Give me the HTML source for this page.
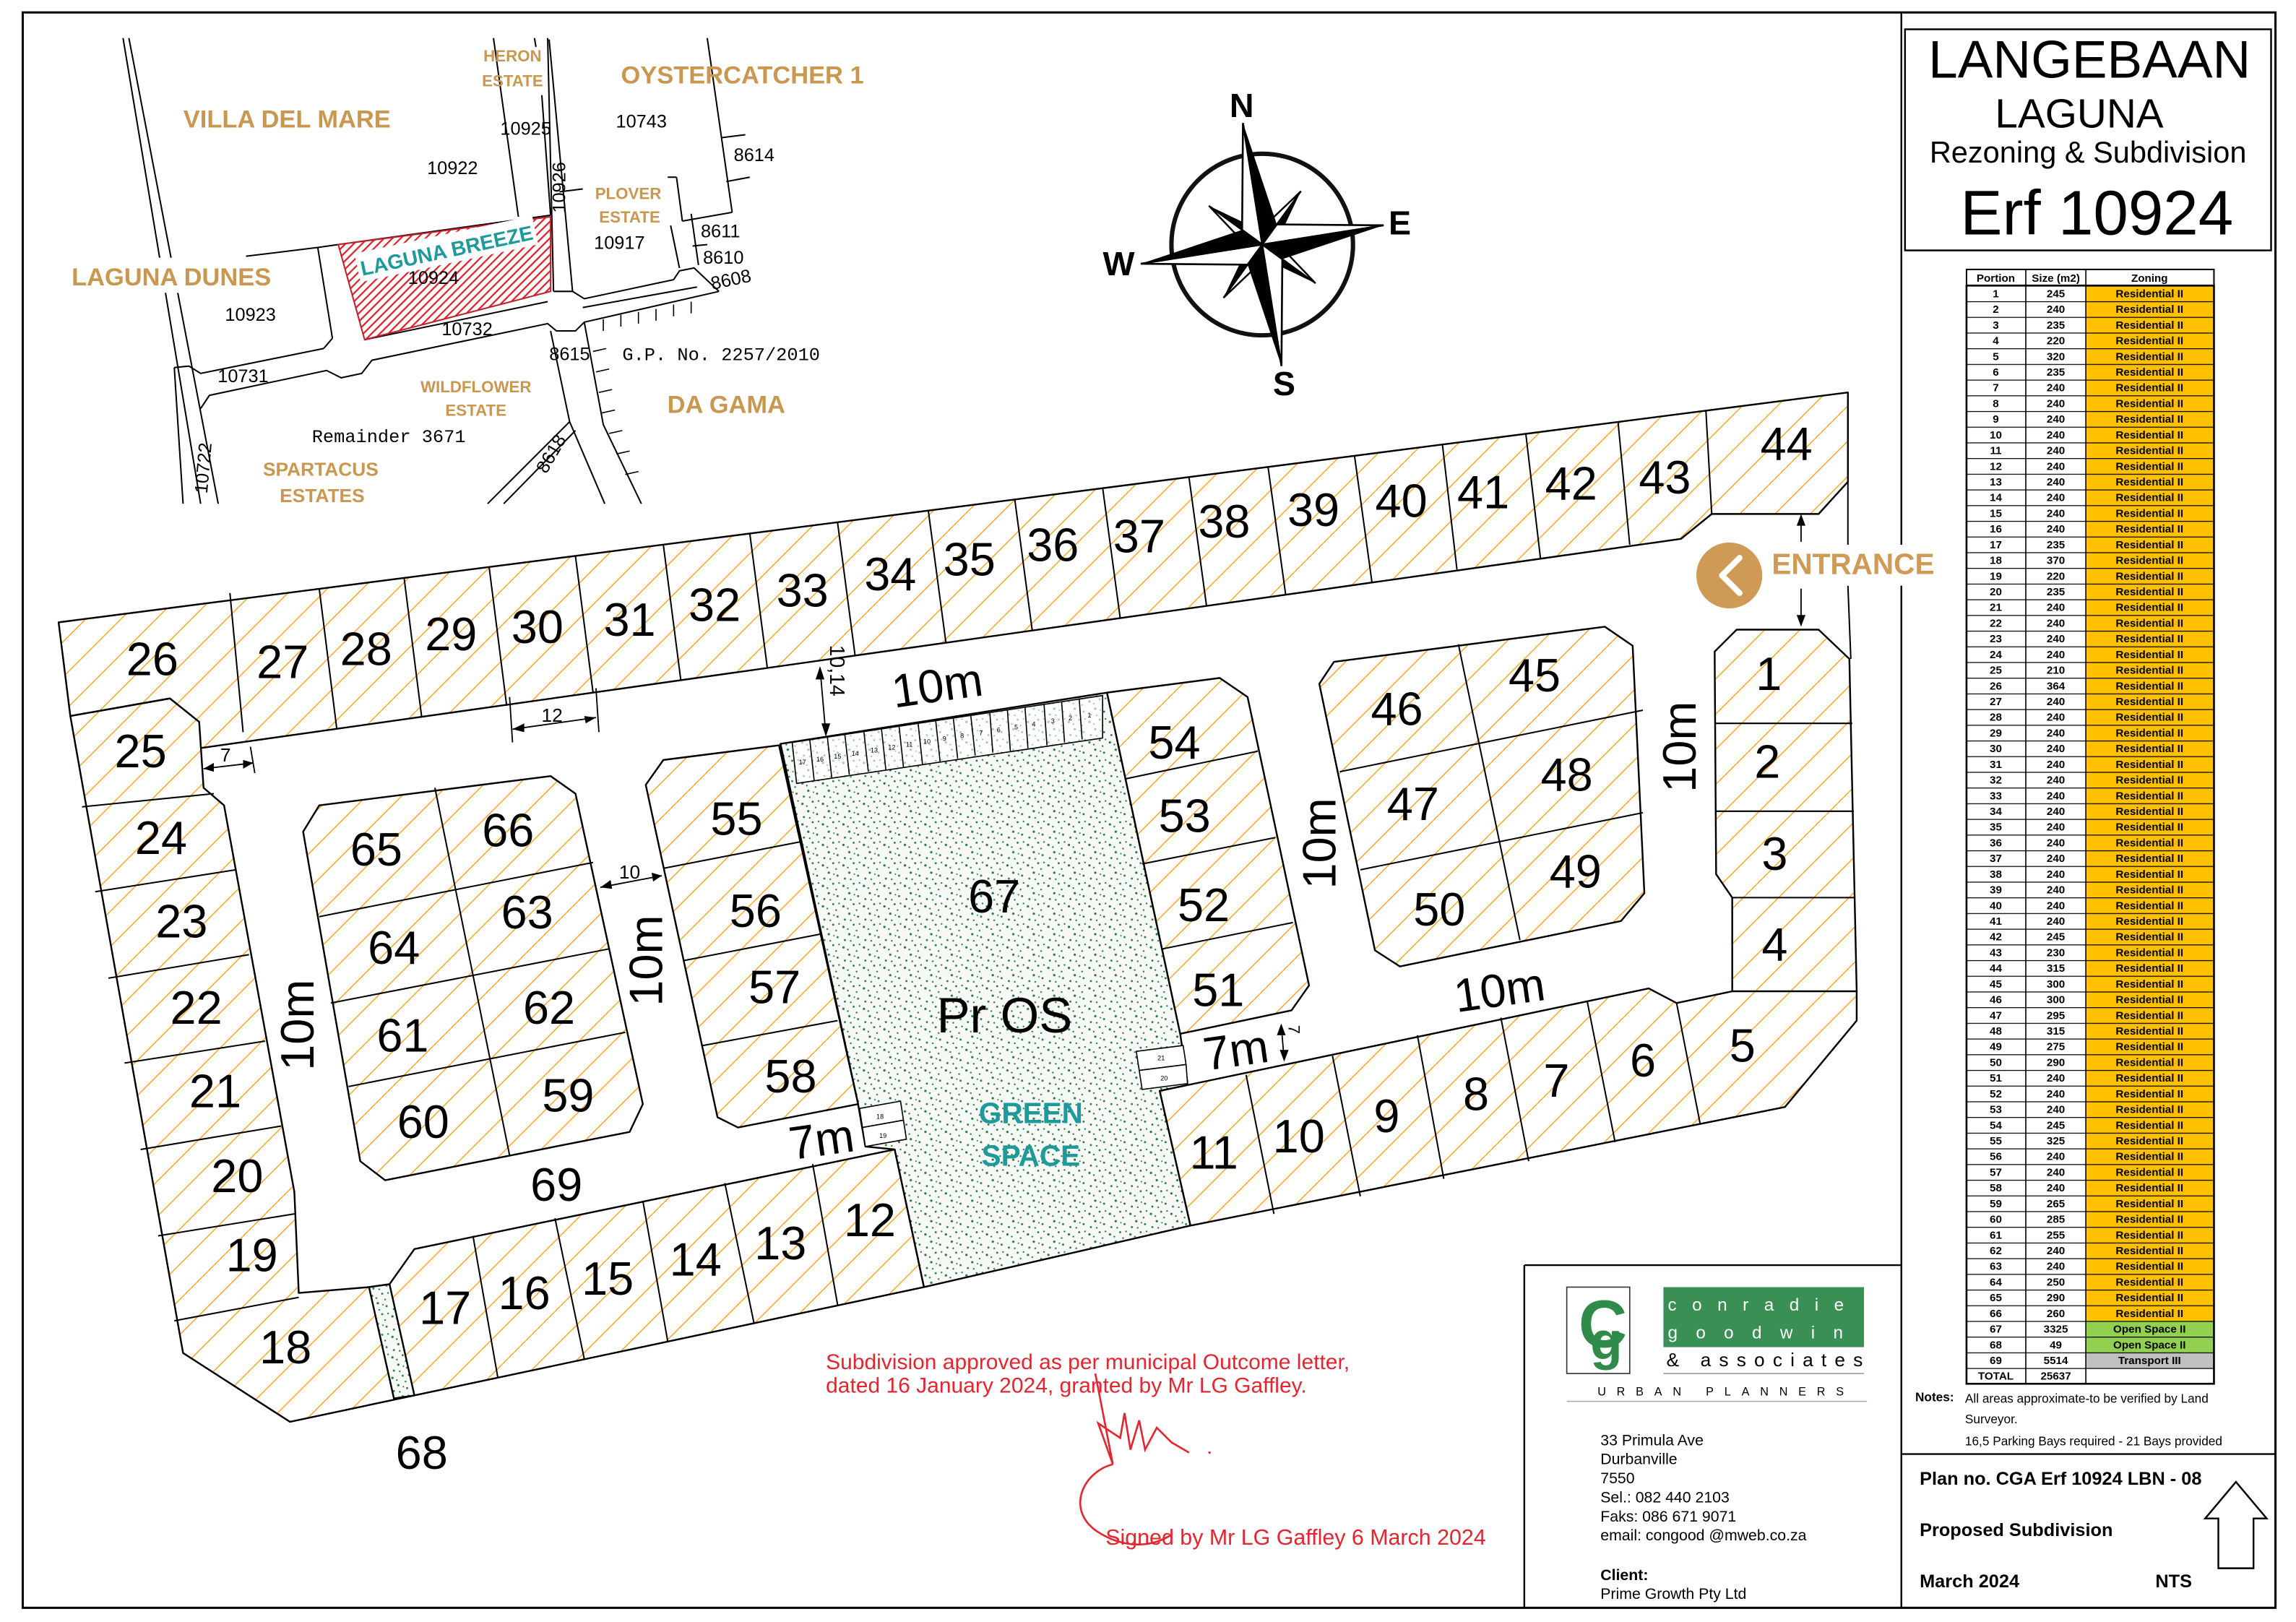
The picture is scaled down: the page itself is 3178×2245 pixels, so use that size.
<!DOCTYPE html>
<html><head><meta charset="utf-8">
<style>
html,body{margin:0;padding:0;background:#fff;}
svg{display:block;}
text{font-family:"Liberation Sans",sans-serif;}
.lot{font-size:32px;fill:#000;text-anchor:middle;dominant-baseline:central;}
.tan{fill:#c9974f;font-weight:bold;text-anchor:middle;}
.num{font-family:"Liberation Sans Narrow","Liberation Sans",sans-serif;font-size:12.5px;text-anchor:middle;}
.mono{font-family:"Liberation Mono",monospace;font-size:12.5px;}
</style></head>
<body>
<svg width="3178" height="2245" viewBox="0 0 1568 1107.7" xmlns="http://www.w3.org/2000/svg">
<defs>
<pattern id="h" patternUnits="userSpaceOnUse" width="17" height="17" patternTransform="rotate(45)">
<rect width="17" height="17" fill="#fff"/><line x1="0" y1="0" x2="0" y2="17" stroke="#f7a21b" stroke-width="1.4"/>
</pattern>
<pattern id="sp" patternUnits="userSpaceOnUse" width="14" height="14">
<rect width="14" height="14" fill="#f7f9f7"/>
<circle cx="2" cy="3" r="0.8" fill="#2a7a40"/><circle cx="9" cy="1.5" r="0.7" fill="#2a7a40"/>
<circle cx="6" cy="8" r="0.8" fill="#2a7a40"/><circle cx="12" cy="10" r="0.7" fill="#2a7a40"/>
<circle cx="3" cy="12" r="0.7" fill="#2a7a40"/><circle cx="11" cy="5.5" r="0.6" fill="#2a7a40"/>
<circle cx="7" cy="12.5" r="0.6" fill="#2a7a40"/><circle cx="5" cy="4.5" r="0.6" fill="#2a7a40"/>
<circle cx="13" cy="1" r="0.6" fill="#2a7a40"/><circle cx="9.5" cy="9" r="0.5" fill="#2a7a40"/>
</pattern>
<pattern id="rh" patternUnits="userSpaceOnUse" width="4" height="4" patternTransform="rotate(45)">
<rect width="4" height="4" fill="#fff"/><line x1="0" y1="0" x2="0" y2="4" stroke="#e0202a" stroke-width="2.2"/>
</pattern>
<pattern id="rows" patternUnits="userSpaceOnUse" x="0" y="195" width="200" height="10.714">
<line x1="0" y1="0.3" x2="200" y2="0.3" stroke="#000" stroke-width="0.6"/>
</pattern>
</defs>

<!-- page frame -->
<rect x="15.5" y="8.5" width="1538.5" height="1089.5" fill="none" stroke="#000" stroke-width="1.5"/>
<line x1="1298.5" y1="8.5" x2="1298.5" y2="1098" stroke="#000" stroke-width="1.2"/>
<line x1="1041" y1="864" x2="1298.5" y2="864" stroke="#000" stroke-width="1.2"/>
<line x1="1041" y1="864" x2="1041" y2="1098" stroke="#000" stroke-width="1.2"/>
<line x1="1298.5" y1="993" x2="1554" y2="993" stroke="#000" stroke-width="1.2"/>

<!-- title -->
<rect x="1301" y="20" width="250" height="151" fill="none" stroke="#000" stroke-width="1.2"/>
<text x="1427" y="53" font-size="36" text-anchor="middle">LANGEBAAN</text>
<text x="1420" y="87" font-size="28" text-anchor="middle">LAGUNA</text>
<text x="1426" y="111" font-size="20.5" text-anchor="middle">Rezoning &amp; Subdivision</text>
<text x="1432" y="160" font-size="43" text-anchor="middle">Erf 10924</text>

<!-- ===== INSET MAP ===== -->
<g stroke="#000" stroke-width="1" fill="none">
<line x1="84" y1="26" x2="137" y2="344"/><line x1="88" y1="26" x2="149" y2="344"/>
<line x1="119" y1="251" x2="125" y2="344"/>
<polyline points="119,251 129,250 137,255 221,238"/>
<polyline points="137,279 143,270 223,253 233,258 247,255 254,246 374,221 380,226 393,226 399,220 491,199"/>
<line x1="217" y1="169" x2="227" y2="231"/><line x1="227" y1="231" x2="221" y2="238"/>
<polyline points="168,175 217,169 231,167 376,147"/>
<line x1="249" y1="232" x2="374" y2="206"/>
<line x1="374" y1="26" x2="378" y2="199"/><line x1="375" y1="27" x2="391" y2="199"/>
<polyline points="378,199 391,199 399,204 460,191 464,185 474,183 491,199"/>
<line x1="337" y1="26" x2="354" y2="148"/><line x1="370" y1="65" x2="376" y2="147"/>
<line x1="365" y1="26" x2="366" y2="32"/>
<line x1="483" y1="26" x2="500" y2="145"/><line x1="466" y1="151" x2="500" y2="145"/>
<line x1="493" y1="94" x2="509" y2="92"/><line x1="496" y1="124" x2="512" y2="121"/>
<line x1="456" y1="121" x2="462" y2="121"/><line x1="462" y1="121" x2="466" y2="151"/>
<line x1="458" y1="154" x2="464" y2="183"/><line x1="472" y1="146" x2="477" y2="181"/>
<line x1="473" y1="168" x2="483" y2="167"/><line x1="382" y1="131" x2="398" y2="129"/>
<polyline points="376,226 389,288 413,344"/>
<polyline points="399,220 412,290 438,344"/>
<polyline points="333,344 389,288"/><line x1="344" y1="344" x2="393" y2="294"/>
<line x1="398" y1="210" x2="476" y2="196"/>
</g>
<g stroke="#000" stroke-width="0.8">
<line x1="405" y1="240" x2="414" y2="238"/><line x1="407" y1="254" x2="416" y2="252"/><line x1="409" y1="268" x2="418" y2="266"/>
<line x1="411" y1="282" x2="420" y2="280"/><line x1="416" y1="296" x2="425" y2="294"/><line x1="421" y1="310" x2="430" y2="308"/><line x1="427" y1="324" x2="436" y2="322"/>
<line x1="412" y1="218" x2="412" y2="226"/><line x1="424" y1="215" x2="424" y2="223"/><line x1="436" y1="213" x2="436" y2="221"/><line x1="448" y1="211" x2="448" y2="219"/><line x1="460" y1="208" x2="460" y2="216"/><line x1="472" y1="206" x2="472" y2="214"/>
</g>
<polygon points="231,167 376,148 376,199 249,232" fill="url(#rh)" stroke="#c0202a" stroke-width="1"/>
<g transform="translate(305,171) rotate(-12)">
<rect x="-62" y="-11" width="124" height="20" fill="#fff"/>
<text x="0" y="5" font-size="14" font-weight="bold" fill="#1f9a9a" text-anchor="middle">LAGUNA BREEZE</text>
</g>
<text class="num" x="296" y="194">10924</text>
<rect x="38" y="176" width="160" height="24" fill="#fff"/>
<text class="tan" x="350" y="42" font-size="11">HERON</text>
<text class="tan" x="350" y="59" font-size="11">ESTATE</text>
<text class="tan" x="507" y="57" font-size="17">OYSTERCATCHER 1</text>
<text class="tan" x="196" y="87" font-size="17">VILLA DEL MARE</text>
<text class="num" x="359" y="92">10925</text>
<text class="num" x="438" y="87">10743</text>
<text class="num" x="515" y="110">8614</text>
<text class="num" x="309" y="119">10922</text>
<text class="num" x="0" y="0" transform="translate(386,128) rotate(-90)">10926</text>
<text class="tan" x="429" y="136" font-size="11">PLOVER</text>
<text class="tan" x="430" y="152" font-size="11">ESTATE</text>
<text class="num" x="423" y="170">10917</text>
<text class="num" x="492" y="162">8611</text>
<text class="num" x="494" y="180">8610</text>
<text class="num" x="0" y="0" transform="translate(500,195) rotate(-12)">8608</text>
<text class="tan" x="117" y="195" font-size="17">LAGUNA DUNES</text>
<text class="num" x="171" y="219">10923</text>
<text class="num" x="319" y="229">10732</text>
<text class="num" x="389" y="246">8615</text>
<text class="mono" x="425" y="246">G.P. No. 2257/2010</text>
<text class="num" x="166" y="261">10731</text>
<text class="tan" x="325" y="268" font-size="11">WILDFLOWER</text>
<text class="tan" x="325" y="284" font-size="11">ESTATE</text>
<text class="tan" x="496" y="282" font-size="17">DA GAMA</text>
<text class="mono" x="213" y="302">Remainder 3671</text>
<text class="tan" x="219" y="325" font-size="13">SPARTACUS</text>
<text class="tan" x="220" y="343" font-size="13">ESTATES</text>
<text class="num" x="0" y="0" transform="translate(143,320) rotate(-85)">10722</text>
<text class="num" x="0" y="0" transform="translate(380,312) rotate(-60)">8618</text>

<!-- ===== COMPASS ===== -->
<circle cx="862" cy="167" r="62" fill="none" stroke="#111" stroke-width="3"/>
<g transform="translate(862,167) rotate(-9)">
 <g>
 <polygon points="0,0 -7,-7 0,-45" fill="#fff" stroke="#000" stroke-width="1.2" transform="rotate(45)"/>
 <polygon points="0,0 7,-7 0,-45" fill="#000" transform="rotate(45)"/>
 <polygon points="0,0 -7,-7 0,-45" fill="#fff" stroke="#000" stroke-width="1.2" transform="rotate(135)"/>
 <polygon points="0,0 7,-7 0,-45" fill="#000" transform="rotate(135)"/>
 <polygon points="0,0 -7,-7 0,-45" fill="#fff" stroke="#000" stroke-width="1.2" transform="rotate(225)"/>
 <polygon points="0,0 7,-7 0,-45" fill="#000" transform="rotate(225)"/>
 <polygon points="0,0 -7,-7 0,-45" fill="#fff" stroke="#000" stroke-width="1.2" transform="rotate(315)"/>
 <polygon points="0,0 7,-7 0,-45" fill="#000" transform="rotate(315)"/>
 </g>
 <polygon points="0,0 -12,-12 0,-84" fill="#fff" stroke="#000" stroke-width="1.3"/>
 <polygon points="0,0 12,-12 0,-84" fill="#000"/>
 <polygon points="0,0 -12,-12 0,-84" fill="#fff" stroke="#000" stroke-width="1.3" transform="rotate(90)"/>
 <polygon points="0,0 12,-12 0,-84" fill="#000" transform="rotate(90)"/>
 <polygon points="0,0 -12,-12 0,-84" fill="#fff" stroke="#000" stroke-width="1.3" transform="rotate(180)"/>
 <polygon points="0,0 12,-12 0,-84" fill="#000" transform="rotate(180)"/>
 <polygon points="0,0 -12,-12 0,-84" fill="#fff" stroke="#000" stroke-width="1.3" transform="rotate(270)"/>
 <polygon points="0,0 12,-12 0,-84" fill="#000" transform="rotate(270)"/>
</g>
<g font-size="23" font-weight="bold" text-anchor="middle">
<text x="848" y="80">N</text><text x="956" y="160">E</text><text x="764" y="188">W</text><text x="877" y="270">S</text>
</g>

<!-- ===== SITE LAYOUT ===== -->
<g stroke="#000" stroke-width="1.2" stroke-linejoin="round">
<polygon fill="url(#h)" points="40,425 1262,268 1262,329 1242,351 1169,351 1148,368 136,511 136,493 116,477 48,489"/>
<polygon fill="url(#h)" points="48,489 116,477 136,493 139,538 153,550 201,814 204,883 252,879 266,877 283,853 611,785 631,879 198,971 125,924"/>
<polygon fill="url(#sp)" points="533,508 756,473 806,706 811,741 792,745 813,837 631,879 611,785 591,783 586,754"/>
<polygon fill="url(#sp)" points="252,879 266,877 283,953 269,955"/>
<polygon fill="url(#h)" points="441,536 453,519 532,509 586,754 504,770 490,763"/>
<polygon fill="url(#h)" points="207,568 218,550 376,530 393,542 439,754 430,773 263,806 246,793"/>
<polygon fill="url(#h)" points="756,473 833,463 852,476 894,673 882,690 806,706"/>
<polygon fill="url(#h)" points="901,467 911,452 1096,428 1115,441 1123,610 1107,629 956,660 939,649"/>
<polygon fill="url(#h)" points="1171,445 1186,430 1242,430 1263,450 1268,677 1183,677 1183,613 1172,597"/>
<polygon fill="url(#h)" points="792,745 1126,675 1145,685 1183,677 1268,677 1268,697 1219,756 813,837"/>
</g>
<g stroke="#000" stroke-width="1">
<line x1="157" y1="405" x2="166" y2="500"/>
<line x1="218" y1="402" x2="230" y2="498"/><line x1="276" y1="395" x2="288" y2="490"/>
<line x1="334" y1="387" x2="346" y2="482"/><line x1="393" y1="380" x2="405" y2="473"/>
<line x1="453" y1="372" x2="465" y2="465"/><line x1="512" y1="364" x2="524" y2="456"/>
<line x1="572" y1="357" x2="584" y2="448"/><line x1="634" y1="349" x2="646" y2="439"/>
<line x1="693" y1="341" x2="705" y2="431"/><line x1="753" y1="333" x2="765" y2="422"/>
<line x1="812" y1="326" x2="824" y2="414"/><line x1="866" y1="319" x2="878" y2="406"/>
<line x1="925" y1="311" x2="937" y2="398"/><line x1="985" y1="303" x2="995" y2="389"/>
<line x1="1042" y1="296" x2="1052" y2="381"/><line x1="1105" y1="288" x2="1113" y2="372"/>
<line x1="1165" y1="280" x2="1169" y2="351"/>
<line x1="56" y1="551" x2="146" y2="542"/><line x1="65" y1="609" x2="161" y2="594"/>
<line x1="74" y1="668" x2="170" y2="652"/><line x1="85" y1="726" x2="181" y2="711"/>
<line x1="96" y1="785" x2="192" y2="769"/><line x1="108" y1="844" x2="201" y2="829"/>
<line x1="119" y1="902" x2="204" y2="886"/>
<line x1="323" y1="844" x2="340" y2="941"/><line x1="379" y1="832" x2="399" y2="928"/>
<line x1="439" y1="820" x2="456" y2="916"/><line x1="495" y1="808" x2="515" y2="904"/>
<line x1="555" y1="795" x2="572" y2="891"/>
<line x1="453" y1="593" x2="546" y2="575"/><line x1="467" y1="656" x2="560" y2="638"/><line x1="480" y1="714" x2="572" y2="697"/>
<line x1="297" y1="538" x2="348" y2="789"/>
<line x1="218" y1="626" x2="405" y2="589"/><line x1="226" y1="685" x2="416" y2="648"/><line x1="238" y1="742" x2="427" y2="705"/>
<line x1="768" y1="532" x2="859" y2="513"/><line x1="780" y1="590" x2="871" y2="572"/><line x1="794" y1="648" x2="883" y2="630"/>
<line x1="996" y1="440" x2="1038" y2="642"/>
<line x1="915" y1="527" x2="1122" y2="485"/><line x1="929" y1="594" x2="1122" y2="555"/>
<line x1="1171" y1="494" x2="1265" y2="494"/><line x1="1172" y1="554" x2="1266" y2="554"/><line x1="1183" y1="613" x2="1267" y2="613"/>
<line x1="851" y1="734" x2="870" y2="829"/><line x1="910" y1="721" x2="929" y2="817"/>
<line x1="968" y1="707" x2="986" y2="805"/><line x1="1025" y1="695" x2="1044" y2="793"/>
<line x1="1084" y1="684" x2="1103" y2="780"/><line x1="1145" y1="685" x2="1161" y2="767"/>
<line x1="1262" y1="329" x2="1262" y2="372"/><line x1="1262" y1="400" x2="1264" y2="450"/>
<line x1="806" y1="706" x2="811" y2="739"/>
</g>
<g stroke="#000" stroke-width="0.8">
<polygon points="541,507 753,475 753,504 544,535" fill="#fff" fill-opacity="0.6"/>
<line x1="553" y1="505" x2="556" y2="533"/><line x1="565" y1="503" x2="568" y2="531"/><line x1="577" y1="502" x2="580" y2="529"/>
<line x1="590" y1="500" x2="593" y2="527"/><line x1="602" y1="498" x2="605" y2="526"/><line x1="614" y1="496" x2="617" y2="524"/>
<line x1="627" y1="494" x2="630" y2="522"/><line x1="639" y1="492" x2="642" y2="520"/><line x1="651" y1="490" x2="654" y2="518"/>
<line x1="663" y1="489" x2="666" y2="516"/><line x1="676" y1="487" x2="678" y2="514"/><line x1="688" y1="485" x2="690" y2="513"/>
<line x1="700" y1="483" x2="702" y2="511"/><line x1="713" y1="481" x2="715" y2="509"/><line x1="725" y1="479" x2="727" y2="507"/>
<line x1="737" y1="477" x2="739" y2="505"/>
<polygon points="776,718 808,714 810,727 778,731" fill="#fff"/><polygon points="778,731 810,727 811,740 780,744" fill="#fff"/>
<polygon points="587,757 615,752 617,765 589,770" fill="#fff"/><polygon points="589,770 617,765 619,778 591,783" fill="#fff"/>
</g>
<g font-size="4.5" text-anchor="middle">
<text x="548" y="522">17</text><text x="560" y="520">16</text><text x="572" y="518">15</text><text x="584" y="516">14</text><text x="597" y="514">13</text><text x="609" y="512">12</text><text x="621" y="510">11</text><text x="633" y="508">10</text><text x="645" y="506">9</text><text x="657" y="504">8</text><text x="670" y="502">7</text><text x="682" y="500">6</text><text x="694" y="498">5</text><text x="706" y="496">4</text><text x="719" y="494">3</text><text x="731" y="492">2</text><text x="744" y="490">1</text>
<text x="793" y="724">21</text><text x="795" y="738">20</text><text x="601" y="764">18</text><text x="603" y="777">19</text>
</g>

<g stroke="#000" stroke-width="0.9" fill="none">
<line x1="560" y1="456" x2="564" y2="502"/>
<line x1="348" y1="476" x2="350" y2="507"/><line x1="407" y1="470" x2="409" y2="500"/>
<line x1="350" y1="498" x2="407" y2="490"/>
<line x1="139" y1="525" x2="173" y2="521"/><line x1="171" y1="510" x2="174" y2="528"/>
<line x1="410" y1="606" x2="452" y2="598"/>
<line x1="875" y1="700" x2="877" y2="724"/>
<line x1="1230" y1="353" x2="1230" y2="370"/><line x1="1230" y1="402" x2="1230" y2="426"/>
</g>
<g fill="#000">
<polygon points="560,455 557,464 563,464"/><polygon points="564,503 561,494 567,494"/>
<polygon points="350,498 358,494 358,500"/><polygon points="407,490 399,489 400,494"/>
<polygon points="139,525 146,521 146,527"/><polygon points="173,521 166,519 166,525"/>
<polygon points="410,606 417,601 418,607"/><polygon points="452,598 445,596 446,602"/>
<polygon points="875,699 872,707 878,707"/><polygon points="877,725 874,717 880,717"/>
<polygon points="1230,351 1227,359 1233,359"/><polygon points="1230,428 1227,420 1233,420"/>
</g>
<g font-size="13" text-anchor="middle">
<text x="377" y="493">12</text><text x="154" y="520">7</text><text x="430" y="600">10</text>
<text x="0" y="0" transform="translate(567,458) rotate(90)" font-size="14">10,14</text>
<text x="0" y="0" transform="translate(880,703) rotate(90)" font-size="11">7</text>
</g>

<g font-size="32" text-anchor="middle" dominant-baseline="central">
<text x="0" y="0" transform="translate(640,468) rotate(-8)">10m</text>
<text x="0" y="0" transform="translate(203,700) rotate(-90)">10m</text>
<text x="0" y="0" transform="translate(441,656) rotate(-90)">10m</text>
<text x="0" y="0" transform="translate(901,576) rotate(-90)">10m</text>
<text x="0" y="0" transform="translate(1147,510) rotate(-90)">10m</text>
<text x="0" y="0" transform="translate(1024,676) rotate(-8)">10m</text>
<text x="0" y="0" transform="translate(561,778) rotate(-8)">7m</text>
<text x="0" y="0" transform="translate(844,717) rotate(-8)">7m</text>
<text x="380" y="809">69</text>
<text x="288" y="992">68</text>
</g>

<g class="lot">
<text x="104" y="450" class="lot">26</text><text x="193" y="452" class="lot">27</text><text x="250" y="443" class="lot">28</text>
<text x="308" y="433" class="lot">29</text><text x="367" y="428" class="lot">30</text><text x="430" y="423" class="lot">31</text>
<text x="488" y="413" class="lot">32</text><text x="548" y="403" class="lot">33</text><text x="608" y="392" class="lot">34</text>
<text x="662" y="382" class="lot">35</text><text x="719" y="372" class="lot">36</text><text x="778" y="366" class="lot">37</text>
<text x="836" y="356" class="lot">38</text><text x="897" y="348" class="lot">39</text><text x="957" y="342" class="lot">40</text>
<text x="1013" y="336" class="lot">41</text><text x="1073" y="330" class="lot">42</text><text x="1137" y="326" class="lot">43</text>
<text x="1220" y="303" class="lot">44</text>
<text x="96" y="513" class="lot">25</text><text x="110" y="572" class="lot">24</text><text x="124" y="629" class="lot">23</text>
<text x="134" y="688" class="lot">22</text><text x="147" y="745" class="lot">21</text><text x="162" y="803" class="lot">20</text>
<text x="172" y="857" class="lot">19</text><text x="195" y="920" class="lot">18</text>
<text x="304" y="893" class="lot">17</text><text x="358" y="883" class="lot">16</text><text x="415" y="873" class="lot">15</text>
<text x="475" y="860" class="lot">14</text><text x="533" y="849" class="lot">13</text><text x="594" y="833" class="lot">12</text>
<text x="257" y="580" class="lot">65</text><text x="347" y="567" class="lot">66</text><text x="269" y="647" class="lot">64</text>
<text x="360" y="623" class="lot">63</text><text x="275" y="707" class="lot">61</text><text x="375" y="688" class="lot">62</text>
<text x="289" y="766" class="lot">60</text><text x="388" y="748" class="lot">59</text>
<text x="503" y="559" class="lot">55</text><text x="516" y="622" class="lot">56</text><text x="529" y="674" class="lot">57</text><text x="540" y="735" class="lot">58</text>
<text x="802" y="507" class="lot">54</text><text x="809" y="557" class="lot">53</text><text x="822" y="618" class="lot">52</text><text x="832" y="676" class="lot">51</text>
<text x="954" y="484" class="lot">46</text><text x="1048" y="461" class="lot">45</text><text x="965" y="549" class="lot">47</text>
<text x="1070" y="529" class="lot">48</text><text x="983" y="621" class="lot">50</text><text x="1076" y="595" class="lot">49</text>
<text x="1208" y="460" class="lot">1</text><text x="1207" y="520" class="lot">2</text><text x="1212" y="583" class="lot">3</text>
<text x="1212" y="645" class="lot">4</text><text x="1190" y="714" class="lot">5</text>
<text x="1122" y="724" class="lot">6</text><text x="1063" y="738" class="lot">7</text><text x="1008" y="747" class="lot">8</text>
<text x="947" y="762" class="lot">9</text><text x="887" y="776" class="lot">10</text><text x="829" y="787" class="lot">11</text>
<text x="679" y="612" class="lot">67</text>
</g>
<text x="686" y="705" font-family="Liberation Mono,monospace" font-size="34" text-anchor="middle">Pr OS</text>
<text x="704" y="767" font-size="20" font-weight="bold" fill="#1f9a9a" text-anchor="middle">GREEN</text>
<text x="704" y="796" font-size="20" font-weight="bold" fill="#1f9a9a" text-anchor="middle">SPACE</text>

<rect x="1205" y="372" width="125" height="28" fill="#fff"/>
<circle cx="1181" cy="393" r="22.5" fill="#cf9a55"/>
<polyline points="1188,381 1176,393 1188,405" fill="none" stroke="#fff" stroke-width="4" stroke-linecap="round" stroke-linejoin="round"/>
<text x="1210" y="392" font-size="20" font-weight="bold" fill="#cf9a55">ENTRANCE</text>

<g fill="#e3262f" font-size="14.8">
<text x="564" y="935">Subdivision approved as per municipal Outcome letter,</text>
<text x="564" y="951">dated 16 January 2024, granted by Mr LG Gaffley.</text>
<text x="755" y="1055" font-size="15">Signed by Mr LG Gaffley 6 March 2024</text>
</g>
<path d="M748,938 L760,1000 L750,972 L765,982 L768,965 L772,990 L778,970 L782,990 L790,975 L800,985 L812,992 M760,1000 C740,1005 728,1030 748,1045 C770,1060 790,1055 800,1048" fill="none" stroke="#e3262f" stroke-width="1.3"/>
<circle cx="826" cy="992" r="0.8" fill="#e3262f"/>

<rect x="1343" y="184" width="169" height="11" fill="#fff" stroke="#000" stroke-width="1"/>
<g font-size="7.5" font-weight="bold" text-anchor="middle">
<text x="1363" y="192.5">Portion</text><text x="1404" y="192.5">Size (m2)</text><text x="1468" y="192.5">Zoning</text>
</g>
<rect x="1425" y="195" width="87" height="707.1" fill="#ffc000"/>
<rect x="1425" y="902.1" width="87" height="21.5" fill="#92d050"/>
<rect x="1425" y="923.6" width="87" height="10.7" fill="#c0c0c0"/>
<rect x="1343" y="195" width="169" height="750" fill="url(#rows)"/>
<rect x="1343" y="195" width="169" height="750" fill="none" stroke="#000" stroke-width="1.3"/>
<line x1="1383.5" y1="184" x2="1383.5" y2="945" stroke="#000" stroke-width="0.8"/>
<line x1="1424.5" y1="184" x2="1424.5" y2="945" stroke="#000" stroke-width="0.8"/>
<g font-size="7.5" font-weight="bold" text-anchor="middle">
<text x="1363" y="203"><tspan x="1363" dy="0">1</tspan><tspan x="1363" dy="10.714">2</tspan><tspan x="1363" dy="10.714">3</tspan><tspan x="1363" dy="10.714">4</tspan><tspan x="1363" dy="10.714">5</tspan><tspan x="1363" dy="10.714">6</tspan><tspan x="1363" dy="10.714">7</tspan><tspan x="1363" dy="10.714">8</tspan><tspan x="1363" dy="10.714">9</tspan><tspan x="1363" dy="10.714">10</tspan><tspan x="1363" dy="10.714">11</tspan><tspan x="1363" dy="10.714">12</tspan><tspan x="1363" dy="10.714">13</tspan><tspan x="1363" dy="10.714">14</tspan><tspan x="1363" dy="10.714">15</tspan><tspan x="1363" dy="10.714">16</tspan><tspan x="1363" dy="10.714">17</tspan><tspan x="1363" dy="10.714">18</tspan><tspan x="1363" dy="10.714">19</tspan><tspan x="1363" dy="10.714">20</tspan><tspan x="1363" dy="10.714">21</tspan><tspan x="1363" dy="10.714">22</tspan><tspan x="1363" dy="10.714">23</tspan><tspan x="1363" dy="10.714">24</tspan><tspan x="1363" dy="10.714">25</tspan><tspan x="1363" dy="10.714">26</tspan><tspan x="1363" dy="10.714">27</tspan><tspan x="1363" dy="10.714">28</tspan><tspan x="1363" dy="10.714">29</tspan><tspan x="1363" dy="10.714">30</tspan><tspan x="1363" dy="10.714">31</tspan><tspan x="1363" dy="10.714">32</tspan><tspan x="1363" dy="10.714">33</tspan><tspan x="1363" dy="10.714">34</tspan><tspan x="1363" dy="10.714">35</tspan><tspan x="1363" dy="10.714">36</tspan><tspan x="1363" dy="10.714">37</tspan><tspan x="1363" dy="10.714">38</tspan><tspan x="1363" dy="10.714">39</tspan><tspan x="1363" dy="10.714">40</tspan><tspan x="1363" dy="10.714">41</tspan><tspan x="1363" dy="10.714">42</tspan><tspan x="1363" dy="10.714">43</tspan><tspan x="1363" dy="10.714">44</tspan><tspan x="1363" dy="10.714">45</tspan><tspan x="1363" dy="10.714">46</tspan><tspan x="1363" dy="10.714">47</tspan><tspan x="1363" dy="10.714">48</tspan><tspan x="1363" dy="10.714">49</tspan><tspan x="1363" dy="10.714">50</tspan><tspan x="1363" dy="10.714">51</tspan><tspan x="1363" dy="10.714">52</tspan><tspan x="1363" dy="10.714">53</tspan><tspan x="1363" dy="10.714">54</tspan><tspan x="1363" dy="10.714">55</tspan><tspan x="1363" dy="10.714">56</tspan><tspan x="1363" dy="10.714">57</tspan><tspan x="1363" dy="10.714">58</tspan><tspan x="1363" dy="10.714">59</tspan><tspan x="1363" dy="10.714">60</tspan><tspan x="1363" dy="10.714">61</tspan><tspan x="1363" dy="10.714">62</tspan><tspan x="1363" dy="10.714">63</tspan><tspan x="1363" dy="10.714">64</tspan><tspan x="1363" dy="10.714">65</tspan><tspan x="1363" dy="10.714">66</tspan><tspan x="1363" dy="10.714">67</tspan><tspan x="1363" dy="10.714">68</tspan><tspan x="1363" dy="10.714">69</tspan><tspan x="1363" dy="10.714">TOTAL</tspan></text>
<text x="1404" y="203"><tspan x="1404" dy="0">245</tspan><tspan x="1404" dy="10.714">240</tspan><tspan x="1404" dy="10.714">235</tspan><tspan x="1404" dy="10.714">220</tspan><tspan x="1404" dy="10.714">320</tspan><tspan x="1404" dy="10.714">235</tspan><tspan x="1404" dy="10.714">240</tspan><tspan x="1404" dy="10.714">240</tspan><tspan x="1404" dy="10.714">240</tspan><tspan x="1404" dy="10.714">240</tspan><tspan x="1404" dy="10.714">240</tspan><tspan x="1404" dy="10.714">240</tspan><tspan x="1404" dy="10.714">240</tspan><tspan x="1404" dy="10.714">240</tspan><tspan x="1404" dy="10.714">240</tspan><tspan x="1404" dy="10.714">240</tspan><tspan x="1404" dy="10.714">235</tspan><tspan x="1404" dy="10.714">370</tspan><tspan x="1404" dy="10.714">220</tspan><tspan x="1404" dy="10.714">235</tspan><tspan x="1404" dy="10.714">240</tspan><tspan x="1404" dy="10.714">240</tspan><tspan x="1404" dy="10.714">240</tspan><tspan x="1404" dy="10.714">240</tspan><tspan x="1404" dy="10.714">210</tspan><tspan x="1404" dy="10.714">364</tspan><tspan x="1404" dy="10.714">240</tspan><tspan x="1404" dy="10.714">240</tspan><tspan x="1404" dy="10.714">240</tspan><tspan x="1404" dy="10.714">240</tspan><tspan x="1404" dy="10.714">240</tspan><tspan x="1404" dy="10.714">240</tspan><tspan x="1404" dy="10.714">240</tspan><tspan x="1404" dy="10.714">240</tspan><tspan x="1404" dy="10.714">240</tspan><tspan x="1404" dy="10.714">240</tspan><tspan x="1404" dy="10.714">240</tspan><tspan x="1404" dy="10.714">240</tspan><tspan x="1404" dy="10.714">240</tspan><tspan x="1404" dy="10.714">240</tspan><tspan x="1404" dy="10.714">240</tspan><tspan x="1404" dy="10.714">245</tspan><tspan x="1404" dy="10.714">230</tspan><tspan x="1404" dy="10.714">315</tspan><tspan x="1404" dy="10.714">300</tspan><tspan x="1404" dy="10.714">300</tspan><tspan x="1404" dy="10.714">295</tspan><tspan x="1404" dy="10.714">315</tspan><tspan x="1404" dy="10.714">275</tspan><tspan x="1404" dy="10.714">290</tspan><tspan x="1404" dy="10.714">240</tspan><tspan x="1404" dy="10.714">240</tspan><tspan x="1404" dy="10.714">240</tspan><tspan x="1404" dy="10.714">245</tspan><tspan x="1404" dy="10.714">325</tspan><tspan x="1404" dy="10.714">240</tspan><tspan x="1404" dy="10.714">240</tspan><tspan x="1404" dy="10.714">240</tspan><tspan x="1404" dy="10.714">265</tspan><tspan x="1404" dy="10.714">285</tspan><tspan x="1404" dy="10.714">255</tspan><tspan x="1404" dy="10.714">240</tspan><tspan x="1404" dy="10.714">240</tspan><tspan x="1404" dy="10.714">250</tspan><tspan x="1404" dy="10.714">290</tspan><tspan x="1404" dy="10.714">260</tspan><tspan x="1404" dy="10.714">3325</tspan><tspan x="1404" dy="10.714">49</tspan><tspan x="1404" dy="10.714">5514</tspan><tspan x="1404" dy="10.714">25637</tspan></text>
<text x="1468" y="203"><tspan x="1468" dy="0">Residential II</tspan><tspan x="1468" dy="10.714">Residential II</tspan><tspan x="1468" dy="10.714">Residential II</tspan><tspan x="1468" dy="10.714">Residential II</tspan><tspan x="1468" dy="10.714">Residential II</tspan><tspan x="1468" dy="10.714">Residential II</tspan><tspan x="1468" dy="10.714">Residential II</tspan><tspan x="1468" dy="10.714">Residential II</tspan><tspan x="1468" dy="10.714">Residential II</tspan><tspan x="1468" dy="10.714">Residential II</tspan><tspan x="1468" dy="10.714">Residential II</tspan><tspan x="1468" dy="10.714">Residential II</tspan><tspan x="1468" dy="10.714">Residential II</tspan><tspan x="1468" dy="10.714">Residential II</tspan><tspan x="1468" dy="10.714">Residential II</tspan><tspan x="1468" dy="10.714">Residential II</tspan><tspan x="1468" dy="10.714">Residential II</tspan><tspan x="1468" dy="10.714">Residential II</tspan><tspan x="1468" dy="10.714">Residential II</tspan><tspan x="1468" dy="10.714">Residential II</tspan><tspan x="1468" dy="10.714">Residential II</tspan><tspan x="1468" dy="10.714">Residential II</tspan><tspan x="1468" dy="10.714">Residential II</tspan><tspan x="1468" dy="10.714">Residential II</tspan><tspan x="1468" dy="10.714">Residential II</tspan><tspan x="1468" dy="10.714">Residential II</tspan><tspan x="1468" dy="10.714">Residential II</tspan><tspan x="1468" dy="10.714">Residential II</tspan><tspan x="1468" dy="10.714">Residential II</tspan><tspan x="1468" dy="10.714">Residential II</tspan><tspan x="1468" dy="10.714">Residential II</tspan><tspan x="1468" dy="10.714">Residential II</tspan><tspan x="1468" dy="10.714">Residential II</tspan><tspan x="1468" dy="10.714">Residential II</tspan><tspan x="1468" dy="10.714">Residential II</tspan><tspan x="1468" dy="10.714">Residential II</tspan><tspan x="1468" dy="10.714">Residential II</tspan><tspan x="1468" dy="10.714">Residential II</tspan><tspan x="1468" dy="10.714">Residential II</tspan><tspan x="1468" dy="10.714">Residential II</tspan><tspan x="1468" dy="10.714">Residential II</tspan><tspan x="1468" dy="10.714">Residential II</tspan><tspan x="1468" dy="10.714">Residential II</tspan><tspan x="1468" dy="10.714">Residential II</tspan><tspan x="1468" dy="10.714">Residential II</tspan><tspan x="1468" dy="10.714">Residential II</tspan><tspan x="1468" dy="10.714">Residential II</tspan><tspan x="1468" dy="10.714">Residential II</tspan><tspan x="1468" dy="10.714">Residential II</tspan><tspan x="1468" dy="10.714">Residential II</tspan><tspan x="1468" dy="10.714">Residential II</tspan><tspan x="1468" dy="10.714">Residential II</tspan><tspan x="1468" dy="10.714">Residential II</tspan><tspan x="1468" dy="10.714">Residential II</tspan><tspan x="1468" dy="10.714">Residential II</tspan><tspan x="1468" dy="10.714">Residential II</tspan><tspan x="1468" dy="10.714">Residential II</tspan><tspan x="1468" dy="10.714">Residential II</tspan><tspan x="1468" dy="10.714">Residential II</tspan><tspan x="1468" dy="10.714">Residential II</tspan><tspan x="1468" dy="10.714">Residential II</tspan><tspan x="1468" dy="10.714">Residential II</tspan><tspan x="1468" dy="10.714">Residential II</tspan><tspan x="1468" dy="10.714">Residential II</tspan><tspan x="1468" dy="10.714">Residential II</tspan><tspan x="1468" dy="10.714">Residential II</tspan><tspan x="1468" dy="10.714">Open Space II</tspan><tspan x="1468" dy="10.714">Open Space II</tspan><tspan x="1468" dy="10.714">Transport III</tspan></text>
</g>

<g font-size="8.5">
<text x="1308" y="957" font-weight="bold">Notes:</text>
<text x="1342" y="958">All areas approximate-to be verified by Land</text>
<text x="1342" y="972">Surveyor.</text>
<text x="1342" y="987">16,5 Parking Bays required - 21 Bays provided</text>
</g>

<g font-size="12.5" font-weight="bold">
<text x="1311" y="1014">Plan no. CGA Erf 10924 LBN - 08</text>
<text x="1311" y="1049">Proposed Subdivision</text>
<text x="1311" y="1084">March 2024</text>
<text x="1472" y="1084">NTS</text>
</g>
<polygon points="1527,1012 1548,1037 1539,1037 1539,1071 1515,1071 1515,1037 1506,1037" fill="#fff" stroke="#000" stroke-width="1.2"/>

<rect x="1070" y="879" width="43" height="59" fill="#fff" stroke="#333" stroke-width="0.8"/>
<text x="1078" y="920" font-family="Liberation Serif,serif" font-size="46" font-weight="bold" fill="#2e8b4a">C</text>
<text x="1086" y="928" font-family="Liberation Serif,serif" font-size="36" font-weight="bold" fill="#2e8b4a">g</text>
<rect x="1136" y="879" width="137" height="41" fill="#3a8f55"/>
<g font-size="12" fill="#fff">
<text x="1139" y="895" letter-spacing="10.6">conradie</text><text x="1139" y="914" letter-spacing="12.5">goodwin</text>
</g>
<text x="1138" y="933" font-size="13" letter-spacing="5.5">&amp; associates</text>
<line x1="1136" y1="938" x2="1273" y2="938" stroke="#999" stroke-width="0.8"/>
<text x="1091" y="953" font-size="8" letter-spacing="7.3">URBAN PLANNERS</text>
<line x1="1070" y1="957" x2="1275" y2="957" stroke="#aaa" stroke-width="0.8"/>

<g font-size="10.5">
<text x="1093" y="987">33 Primula Ave</text>
<text x="1093" y="1000">Durbanville</text>
<text x="1093" y="1013">7550</text>
<text x="1093" y="1026">Sel.: 082 440 2103</text>
<text x="1093" y="1039">Faks:  086 671 9071</text>
<text x="1093" y="1052">email: congood @mweb.co.za</text>
<text x="1093" y="1079" font-weight="bold">Client:</text>
<text x="1093" y="1092">Prime Growth Pty Ltd</text>
</g>
</svg>
</body></html>
